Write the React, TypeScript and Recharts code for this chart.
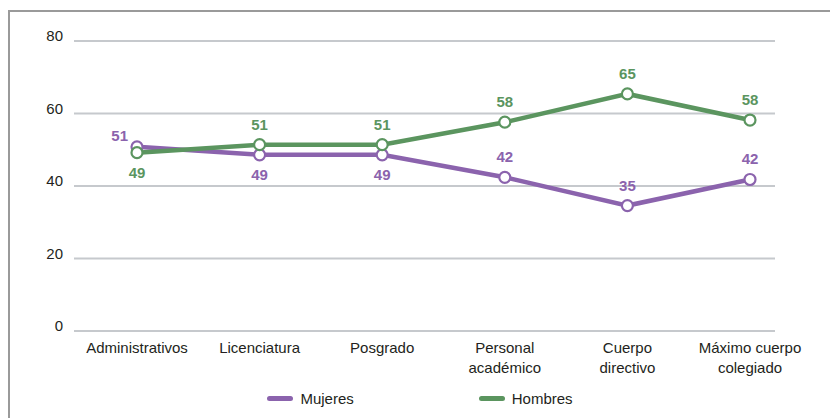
import { LineChart, Line, XAxis, YAxis, CartesianGrid, Legend, LabelList } from 'recharts';

const FONT = '"Liberation Sans", Arial, Helvetica, sans-serif';
const PURPLE = '#8b63ad';
const GREEN = '#5b955f';
const TEXT = '#231f20';

const categories = [
  'Administrativos',
  'Licenciatura',
  'Posgrado',
  'Personal\nacadémico',
  'Cuerpo\ndirectivo',
  'Máximo cuerpo\ncolegiado',
];
const mujeres = [50.8, 48.6, 48.6, 42.4, 34.6, 41.8];
const hombres = [49.2, 51.4, 51.4, 57.6, 65.4, 58.2];
const yTicks = [0, 20, 40, 60, 80];
const seriesOrder = ['mujeres', 'hombres'];

// where each value label sits relative to its point
const mujeresLabelPos = ['topLeft', 'bottom', 'bottom', 'top', 'top', 'top'];
const hombresLabelPos = ['bottom', 'top', 'top', 'top', 'top', 'top'];

const data = categories.map((name, i) => ({ name, mujeres: mujeres[i], hombres: hombres[i] }));

function XTick({ x, y, payload }: any) {
  const lines = String(payload.value).split('\n');
  return (
    <text x={x} y={y} textAnchor="middle" fill={TEXT} fontSize={15} fontFamily={FONT}>
      {lines.map((l, i) => (
        <tspan key={i} x={x} dy={i === 0 ? '0.71em' : 20}>
          {l}
        </tspan>
      ))}
    </text>
  );
}

function YTick({ x, y, payload }: any) {
  return (
    <text x={x} y={y} textAnchor="end" fill={TEXT} fontSize={15} fontFamily={FONT}>
      {payload.value}
    </text>
  );
}

function makeLabel(color: string, placement: string[]) {
  return (props: any) => {
    const { x, y, value, index } = props;
    const pos = placement[index];
    let tx = x;
    let ty = y - 15;
    let anchor: 'middle' | 'end' = 'middle';
    if (pos === 'bottom') ty = y + 25;
    if (pos === 'topLeft') {
      tx = x - 9;
      ty = y - 6;
      anchor = 'end';
    }
    return (
      <text x={tx} y={ty} textAnchor={anchor} fill={color} fontSize={15} fontWeight="bold" fontFamily={FONT}>
        {Math.round(Number(value))}
      </text>
    );
  };
}

function LegendContent({ payload }: any) {
  const items = [...(payload ?? [])].sort(
    (a: any, b: any) => seriesOrder.indexOf(a.dataKey) - seriesOrder.indexOf(b.dataKey),
  );
  return (
    <div style={{ display: 'flex', justifyContent: 'center', alignItems: 'center', gap: 125, height: 20 }}>
      {items.map((p: any) => (
        <div key={p.value} style={{ display: 'flex', alignItems: 'center' }}>
          <span style={{ width: 26, height: 5, borderRadius: 3, background: p.color, marginRight: 7 }} />
          <span style={{ fontSize: 15, fontFamily: FONT, color: TEXT }}>{p.value}</span>
        </div>
      ))}
    </div>
  );
}

export default function App() {
  return (
    <div
      style={{
        position: 'absolute',
        left: 8,
        top: 10,
        width: 820,
        height: 406,
        borderLeft: '2px solid #9a9a9a',
        borderTop: '2px solid #9a9a9a',
        background: '#fff',
        overflow: 'hidden',
      }}
    >
      <LineChart width={820} height={406} data={data} margin={{ top: 29, right: 19, left: 0, bottom: 17 }}>
        <CartesianGrid vertical={false} stroke="#c6c9cd" strokeWidth={2} x={64} width={701} />
        <XAxis
          dataKey="name"
          axisLine={false}
          tickLine={false}
          height={50}
          interval={0}
          tickMargin={5}
          padding={{ left: 61, right: 61 }}
          tick={<XTick />}
        />
        <YAxis
          domain={[0, 80]}
          ticks={yTicks}
          width={66}
          axisLine={false}
          tickLine={false}
          tickMargin={7}
          tick={<YTick />}
        />
        <Legend
          verticalAlign="bottom"
          content={<LegendContent />}
          wrapperStyle={{ top: 376, bottom: 'auto', left: 0, width: 820 }}
        />
        <Line
          type="linear"
          dataKey="mujeres"
          name="Mujeres"
          stroke={PURPLE}
          strokeWidth={4.5}
          dot={{ r: 5.5, fill: '#fff', stroke: PURPLE, strokeWidth: 2.2 }}
          isAnimationActive={false}
        >
          <LabelList dataKey="mujeres" content={makeLabel(PURPLE, mujeresLabelPos)} />
        </Line>
        <Line
          type="linear"
          dataKey="hombres"
          name="Hombres"
          stroke={GREEN}
          strokeWidth={4.5}
          dot={{ r: 5.5, fill: '#fff', stroke: GREEN, strokeWidth: 2.2 }}
          isAnimationActive={false}
        >
          <LabelList dataKey="hombres" content={makeLabel(GREEN, hombresLabelPos)} />
        </Line>
      </LineChart>
    </div>
  );
}
